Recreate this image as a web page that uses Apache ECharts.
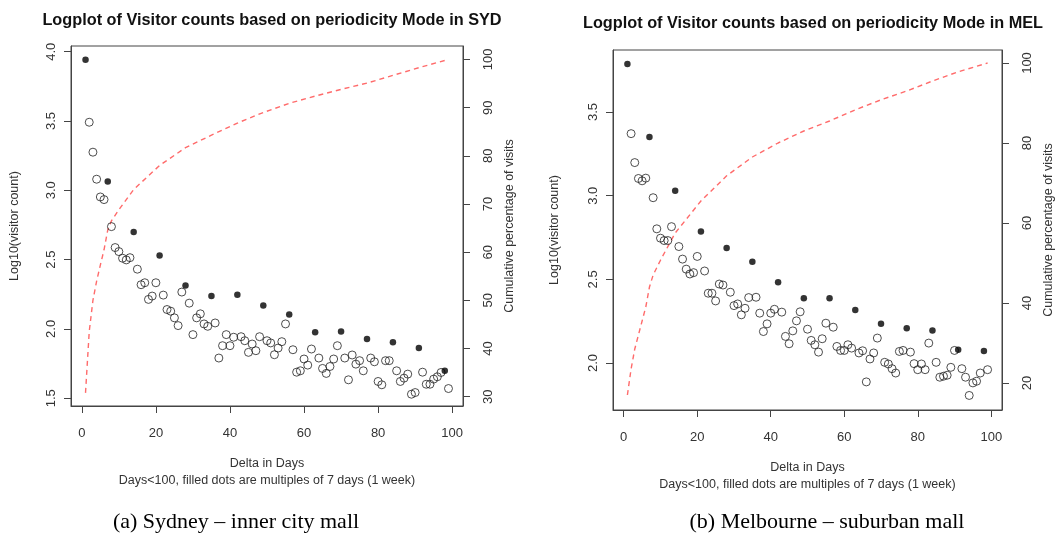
<!DOCTYPE html>
<html lang="en">
<head>
    <meta charset="UTF-8">
    <title>Logplot of visitor counts</title>
    <script src="https://cdn.jsdelivr.net/npm/echarts@6/dist/echarts.min.js"></script>
    <style>
        html, body {margin: 0; padding: 0; background: #fff;}
    </style>
</head>
<body>
<div id="chart" style="width: 1056px;height:543px;"></div>
<script type="text/javascript">
    // log10 visitor counts for day 1..99
    var sydLog = [
        3.941, 3.491, 3.275, 3.080, 2.952, 2.933, 3.063, 2.738, 2.587, 2.558,
        2.510, 2.498, 2.514, 2.700, 2.431, 2.319, 2.333, 2.213, 2.237, 2.333,
        2.529, 2.244, 2.140, 2.128, 2.080, 2.024, 2.266, 2.314, 2.186, 1.959,
        2.080, 2.109, 2.036, 2.019, 2.237, 2.043, 1.790, 1.879, 1.959, 1.879,
        1.940, 2.246, 1.944, 1.915, 1.831, 1.891, 1.843, 1.944, 2.169, 1.915,
        1.899, 1.814, 1.862, 1.908, 2.036, 2.104, 1.850, 1.688, 1.698, 1.783,
        1.739, 1.855, 1.976, 1.790, 1.715, 1.679, 1.729, 1.783, 1.879, 1.981,
        1.790, 1.633, 1.812, 1.746, 1.771, 1.698, 1.928, 1.790, 1.763, 1.621,
        1.597, 1.771, 1.771, 1.903, 1.698, 1.621, 1.645, 1.674, 1.529, 1.541,
        1.862, 1.688, 1.601, 1.601, 1.638, 1.655, 1.686, 1.698, 1.570
    ];
    var melLog = [
        3.788, 3.371, 3.198, 3.103, 3.089, 3.105, 3.351, 2.988, 2.802, 2.746,
        2.732, 2.732, 2.815, 3.030, 2.696, 2.621, 2.561, 2.532, 2.540, 2.637,
        2.786, 2.550, 2.417, 2.417, 2.371, 2.472, 2.466, 2.687, 2.423, 2.343,
        2.353, 2.288, 2.327, 2.391, 2.605, 2.393, 2.298, 2.188, 2.234, 2.298,
        2.321, 2.482, 2.304, 2.159, 2.115, 2.192, 2.252, 2.306, 2.387, 2.202,
        2.135, 2.109, 2.065, 2.145, 2.238, 2.387, 2.214, 2.099, 2.075, 2.075,
        2.109, 2.089, 2.317, 2.060, 2.073, 1.887, 2.024, 2.060, 2.149, 2.234,
        2.004, 1.994, 1.966, 1.940, 2.069, 2.075, 2.208, 2.065, 1.996, 1.960,
        1.994, 1.960, 2.119, 2.194, 2.004, 1.915, 1.921, 1.927, 1.974, 2.075,
        2.079, 1.966, 1.915, 1.806, 1.881, 1.891, 1.940, 2.071, 1.960
    ];
    var filledDays = [1, 7, 14, 21, 28, 35, 42, 49, 56, 63, 70, 77, 84, 91, 98];

    // cumulative percentage of visits (red dashed line)
    var cumDays = [1, 2, 3, 4, 5, 6, 7, 8, 10, 14, 21, 28, 35, 42, 49, 56, 63, 70, 77, 84, 91, 99];
    var sydCum = [30.8, 43.5, 50.0, 54.0, 57.3, 60.5, 64.6, 66.5, 68.8, 73.0, 78.0, 81.7, 84.3, 86.8,
        89.0, 90.9, 92.4, 93.8, 95.1, 96.7, 98.3, 100];
    var melCum = [17.0, 23.5, 28.5, 32.0, 35.5, 39.0, 44.0, 47.0, 50.7, 57.5, 65.5, 71.8, 76.5, 80.0,
        83.0, 85.5, 88.3, 90.8, 93.0, 95.5, 97.8, 100];

    var xTicks = [0, 20, 40, 60, 80, 100];
    var sydLeftTicks = [1.5, 2.0, 2.5, 3.0, 3.5, 4.0];
    var sydRightTicks = [30, 40, 50, 60, 70, 80, 90, 100];
    var melLeftTicks = [2.0, 2.5, 3.0, 3.5];
    var melRightTicks = [20, 40, 60, 80, 100];

    var chart = echarts.init(document.getElementById('chart'));

    function points(values, filled) {
        var out = [];
        for (var i = 0; i < values.length; i++) {
            var day = i + 1;
            var isFilled = filledDays.indexOf(day) >= 0;
            if (isFilled === filled) out.push([day, values[i]]);
        }
        return out;
    }

    function pairs(xs, ys) {
        return xs.map(function (x, i) { return [x, ys[i]]; });
    }

    var axisColor = '#444';
    var textColor = '#333';
    var font = 'Liberation Sans, Arial, sans-serif';

    function xAxisCfg(grid) {
        return {
            gridIndex: grid, type: 'value', min: -2.92, max: 102.92,
            axisLine: {show: true, onZero: false, lineStyle: {color: axisColor}},
            axisTick: {show: true, length: 7, customValues: xTicks, lineStyle: {color: axisColor}},
            axisLabel: {customValues: xTicks, margin: 21, fontSize: 13, color: textColor, fontFamily: font},
            splitLine: {show: false},
            name: 'Delta in Days\nDays<100, filled dots are multiples of 7 days (1 week)',
            nameLocation: 'middle', nameGap: 49,
            nameTextStyle: {fontSize: 12.5, color: textColor, fontFamily: font, lineHeight: 17}
        };
    }

    function yAxisCfg(grid, pos, min, max, ticks, name, nameGap) {
        return {
            gridIndex: grid, type: 'value', position: pos, min: min, max: max,
            axisLine: {show: true, onZero: false, lineStyle: {color: axisColor}},
            axisTick: {show: true, length: 7, customValues: ticks, lineStyle: {color: axisColor}},
            axisLabel: {
                customValues: ticks, rotate: 90, margin: pos === 'left' ? 13 : 19,
                fontSize: 13, color: textColor, fontFamily: font,
                formatter: function (v) { return pos === 'left' ? v.toFixed(1) : String(v); }
            },
            splitLine: {show: false},
            name: name, nameLocation: 'middle', nameRotate: 90, nameGap: nameGap,
            nameTextStyle: {fontSize: 12.5, color: textColor, fontFamily: font}
        };
    }

    function openSeries(x, y, data) {
        return {
            type: 'scatter', xAxisIndex: x, yAxisIndex: y, data: data,
            symbol: 'circle', symbolSize: 8,
            itemStyle: {color: 'rgba(255,255,255,0)', borderColor: '#222', borderWidth: 1}
        };
    }

    function filledSeries(x, y, data) {
        return {
            type: 'scatter', xAxisIndex: x, yAxisIndex: y, data: data,
            symbol: 'circle', symbolSize: 6.5, z: 3,
            itemStyle: {color: '#000'}
        };
    }

    function cumSeries(x, y, data) {
        return {
            type: 'line', xAxisIndex: x, yAxisIndex: y, data: data,
            symbol: 'none', z: 1,
            lineStyle: {color: '#ff6b6b', width: 1.4, type: [5, 4]}
        };
    }

    var option = {
        animation: false,
        title: [
            {
                text: 'Logplot of Visitor counts based on periodicity Mode in SYD',
                left: 267, top: 8, textAlign: 'center',
                textStyle: {fontSize: 16.3, fontWeight: 'bold', color: '#111', fontFamily: font}
            },
            {
                text: 'Logplot of Visitor counts based on periodicity Mode in MEL',
                left: 808, top: 11, textAlign: 'center',
                textStyle: {fontSize: 16.3, fontWeight: 'bold', color: '#111', fontFamily: font}
            },
            {
                text: '(a) Sydney \u2013 inner city mall',
                left: 231, top: 506, textAlign: 'center',
                textStyle: {fontSize: 22, fontWeight: 'normal', color: '#000', fontFamily: 'Liberation Serif, Times New Roman, serif'}
            },
            {
                text: '(b) Melbourne \u2013 suburban mall',
                left: 822, top: 506, textAlign: 'center',
                textStyle: {fontSize: 22, fontWeight: 'normal', color: '#000', fontFamily: 'Liberation Serif, Times New Roman, serif'}
            }
        ],
        grid: [
            {left: 71, top: 46, width: 392, height: 360, show: true, borderColor: axisColor, borderWidth: 1, backgroundColor: 'transparent'},
            {left: 613, top: 50, width: 390, height: 360, show: true, borderColor: axisColor, borderWidth: 1, backgroundColor: 'transparent'}
        ],
        xAxis: [xAxisCfg(0), xAxisCfg(1)],
        yAxis: [
            yAxisCfg(0, 'left', 1.444, 4.041, sydLeftTicks, 'Log10(visitor count)', 50),
            yAxisCfg(0, 'right', 28.07, 102.8, sydRightTicks, 'Cumulative percentage of visits', 40),
            yAxisCfg(1, 'left', 1.719, 3.871, melLeftTicks, 'Log10(visitor count)', 52),
            yAxisCfg(1, 'right', 13.25, 103.25, melRightTicks, 'Cumulative percentage of visits', 40)
        ],
        series: [
            cumSeries(0, 1, pairs(cumDays, sydCum)),
            openSeries(0, 0, points(sydLog, false)),
            filledSeries(0, 0, points(sydLog, true)),
            cumSeries(1, 3, pairs(cumDays, melCum)),
            openSeries(1, 2, points(melLog, false)),
            filledSeries(1, 2, points(melLog, true))
        ]
    };

    chart.setOption(option);
</script>
</body>
</html>
